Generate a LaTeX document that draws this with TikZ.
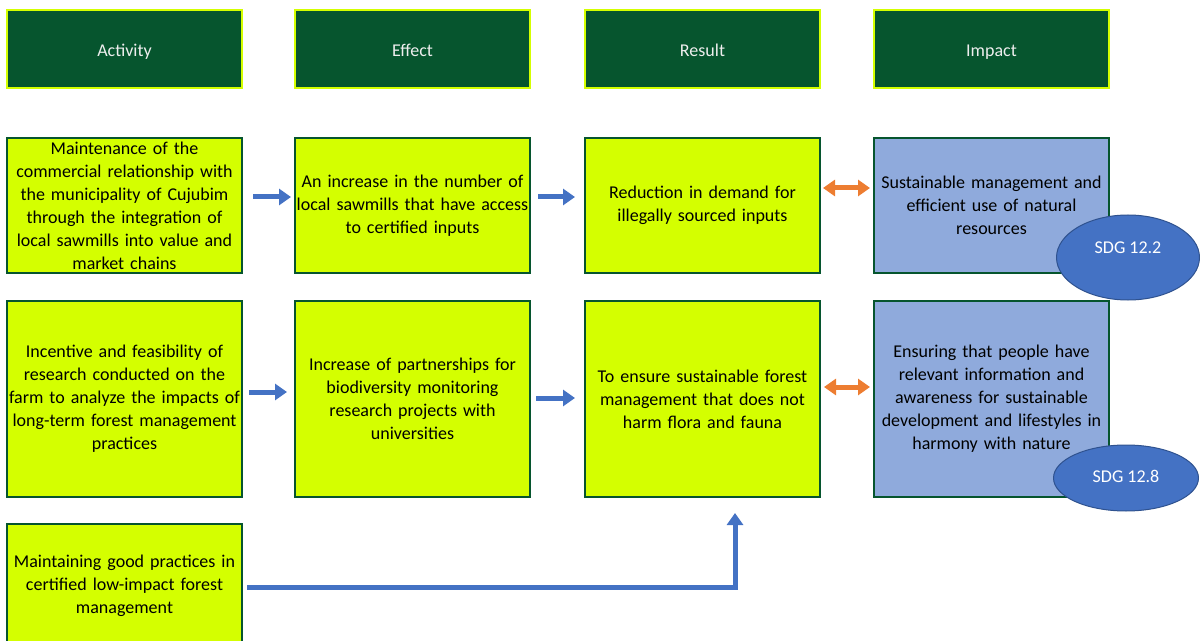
\documentclass[tikz,border=0pt]{standalone}
\usepackage{fontspec}
\setmainfont{Carlito}
\usetikzlibrary{arrows.meta,shapes.geometric}
\definecolor{darkgreen}{HTML}{06552E}
\definecolor{lime}{HTML}{D4FF00}
\definecolor{impactblue}{HTML}{8FAADC}
\definecolor{sdgblue}{HTML}{4472C4}
\definecolor{sdgedge}{HTML}{2F528F}
\definecolor{arrowblue}{HTML}{4472C4}
\definecolor{arroworange}{HTML}{ED7D31}
\definecolor{headtext}{HTML}{EEEEEE}
\tikzset{
  every node/.style={font=\fontsize{18bp}{23bp}\selectfont},
  header/.style={rectangle, draw=lime, fill=darkgreen, line width=2.5bp,
    minimum width=235bp, minimum height=78bp, inner sep=0pt, text=headtext,
    text height=15bp, text depth=0bp},
  cell/.style={rectangle, draw=darkgreen, fill=lime, line width=2bp,
    minimum width=235bp, inner sep=0pt, align=center, text width=232bp, text=black},
  impactcell/.style={cell, fill=impactblue},
  sdg/.style={ellipse, draw=sdgedge, fill=sdgblue, line width=1bp, inner sep=0pt},
  sdgtext/.style={text=white, inner sep=0pt},
  barrow/.style={draw=arrowblue, line width=5bp,
    -{Triangle[width=16bp,length=12bp]}},
  oarrow/.style={draw=arroworange, line width=5bp,
    {Triangle[width=16bp,length=12bp]}-{Triangle[width=16bp,length=12bp]}},
}
\begin{document}
\begin{tikzpicture}[x=1bp,y=-1bp]
\useasboundingbox (0,0) rectangle (1200,641);
\clip (0,0) rectangle (1200,641);

% column headers
\node[header] (hact) at (124.5,49) {Activity};
\node[header] (heff) at (412.5,49) {Effect};
\node[header] (hres) at (702.5,49) {Result};
\node[header] (himp) at (991.5,49) {Impact};

% first row
\node[cell, minimum height=135bp] (act1) at (124.5,205.5)
  {Maintenance of the\\commercial relationship with\\the municipality of Cujubim\\through the integration of\\local sawmills into value and\\market chains};
\node[cell, minimum height=135bp] (eff1) at (412.5,205.5)
  {An increase in the number of\\local sawmills that have access\\to certified inputs};
\node[cell, minimum height=135bp] (res1) at (702.5,205.5)
  {Reduction in demand for\\illegally sourced inputs};
\node[impactcell, minimum height=135bp] (imp1) at (991.5,205.5)
  {Sustainable management and\\efficient use of natural\\resources};

% second row
\node[cell, minimum height=196bp] (act2) at (124.5,399)
  {Incentive and feasibility of\\research conducted on the\\farm to analyze the impacts of\\long-term forest management\\practices};
\node[cell, minimum height=196bp] (eff2) at (412.5,399)
  {Increase of partnerships for\\biodiversity monitoring\\research projects with\\universities};
\node[cell, minimum height=196bp] (res2) at (702.5,399)
  {To ensure sustainable forest\\management that does not\\harm flora and fauna};
\node[impactcell, minimum height=196bp] (imp2) at (991.5,399)
  {Ensuring that people have\\relevant information and\\awareness for sustainable\\development and lifestyles in\\harmony with nature};

% third row
\node[cell, minimum height=124bp] (act3) at (124.5,586)
  {Maintaining good practices in\\certified low-impact forest\\management};

% SDG badges
\node[sdg, minimum width=143bp, minimum height=85bp] (sdg1) at (1128,257.5) {};
\node[sdgtext] (sdg1t) at ([yshift=10bp]sdg1.center) {SDG 12.2};
\node[sdg, minimum width=145bp, minimum height=66bp] (sdg2) at (1126,478) {};
\node[sdgtext] (sdg2t) at ([yshift=2bp]sdg2.center) {SDG 12.8};

% connectors, first row
\draw[barrow] ([xshift=10bp,yshift=8.5bp]act1.east) -- ([xshift=-3bp,yshift=8.5bp]eff1.west);
\draw[barrow] ([xshift=7bp,yshift=8.5bp]eff1.east) -- ([xshift=-9bp,yshift=8.5bp]res1.west);
\draw[oarrow] ([xshift=2bp,yshift=17.5bp]res1.east) -- ([xshift=-3bp,yshift=17.5bp]imp1.west);

% connectors, second row
\draw[barrow] ([xshift=6bp,yshift=7bp]act2.east) -- ([xshift=-7bp,yshift=7bp]eff2.west);
\draw[barrow] ([xshift=5bp,yshift=1bp]eff2.east) -- ([xshift=-9bp,yshift=1bp]res2.west);
\draw[oarrow] ([xshift=3bp,yshift=12bp]res2.east) -- ([xshift=-3bp,yshift=12bp]imp2.west);

% third row feeds the second result
\draw[barrow] ([xshift=4bp,yshift=-1bp]act3.east) -| ([xshift=32.5bp,yshift=-15bp]res2.south);
\end{tikzpicture}
\end{document}
